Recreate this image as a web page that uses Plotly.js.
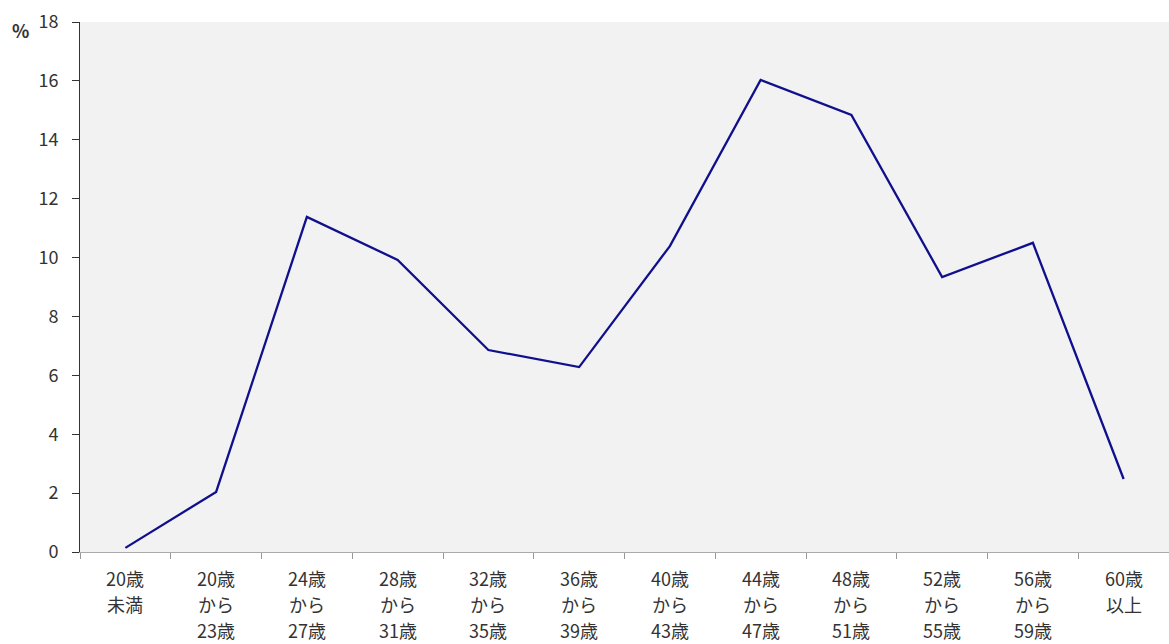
<!DOCTYPE html>
<html><head><meta charset="utf-8">
<script src="https://cdn.plot.ly/plotly-3.0.1.min.js"></script>
<style>html,body{margin:0;padding:0;background:#fff}</style>
</head><body><div id="chart" style="width:1169px;height:644px"></div>
<script>
const categories = ["20歳\n未満","20歳\nから\n23歳","24歳\nから\n27歳","28歳\nから\n31歳","32歳\nから\n35歳","36歳\nから\n39歳","40歳\nから\n43歳","44歳\nから\n47歳","48歳\nから\n51歳","52歳\nから\n55歳","56歳\nから\n59歳","60歳\n以上"];
const values = [0.14, 2.04, 11.38, 9.92, 6.86, 6.28, 10.39, 16.03, 14.84, 9.34, 10.5, 2.48];
const yTicks = [0,2,4,6,8,10,12,14,16,18];
const font = "'Noto Sans CJK JP', 'Noto Sans', sans-serif";

const annotations = [];
categories.forEach(c => {
  c.split('\n').forEach((line, i) => {
    annotations.push({text: line, xref: 'x', yref: 'paper', x: c, y: 0, xanchor: 'center', yanchor: 'middle',
      yshift: -(26 + 26 * i), showarrow: false, font: {family: font, size: 18, color: '#333'}});
  });
});
annotations.push({text: '<b>%</b>', xref: 'paper', yref: 'paper', x: -0.055, y: 0.985, xanchor: 'center', yanchor: 'middle',
  showarrow: false, font: {family: font, size: 18, color: '#333'}});

Plotly.newPlot('chart', [{
  x: categories, y: values, type: 'scatter', mode: 'lines',
  line: {color: '#10108c', width: 2.3}, hoverinfo: 'none'
}], {
  width: 1169, height: 644,
  margin: {l: 80, r: 0, t: 22, b: 92},
  paper_bgcolor: '#ffffff', plot_bgcolor: '#f2f2f2',
  showlegend: false,
  xaxis: {type: 'category', range: [-0.5, 11.5], tickson: 'boundaries', ticks: 'outside', ticklen: 6,
    tickcolor: '#999', showline: true, linecolor: '#aaa', linewidth: 1, showgrid: false, zeroline: false,
    showticklabels: false, automargin: false},
  yaxis: {range: [0, 18], tickvals: yTicks, ticks: 'outside', ticklen: 7, tickcolor: '#333',
    showline: true, linecolor: '#333', linewidth: 1, showgrid: false, zeroline: false,
    ticklabelstandoff: 10,
    tickfont: {family: font, size: 18, color: '#333'}, automargin: false},
  annotations: annotations
}, {displayModeBar: false, staticPlot: true});
</script></body></html>
